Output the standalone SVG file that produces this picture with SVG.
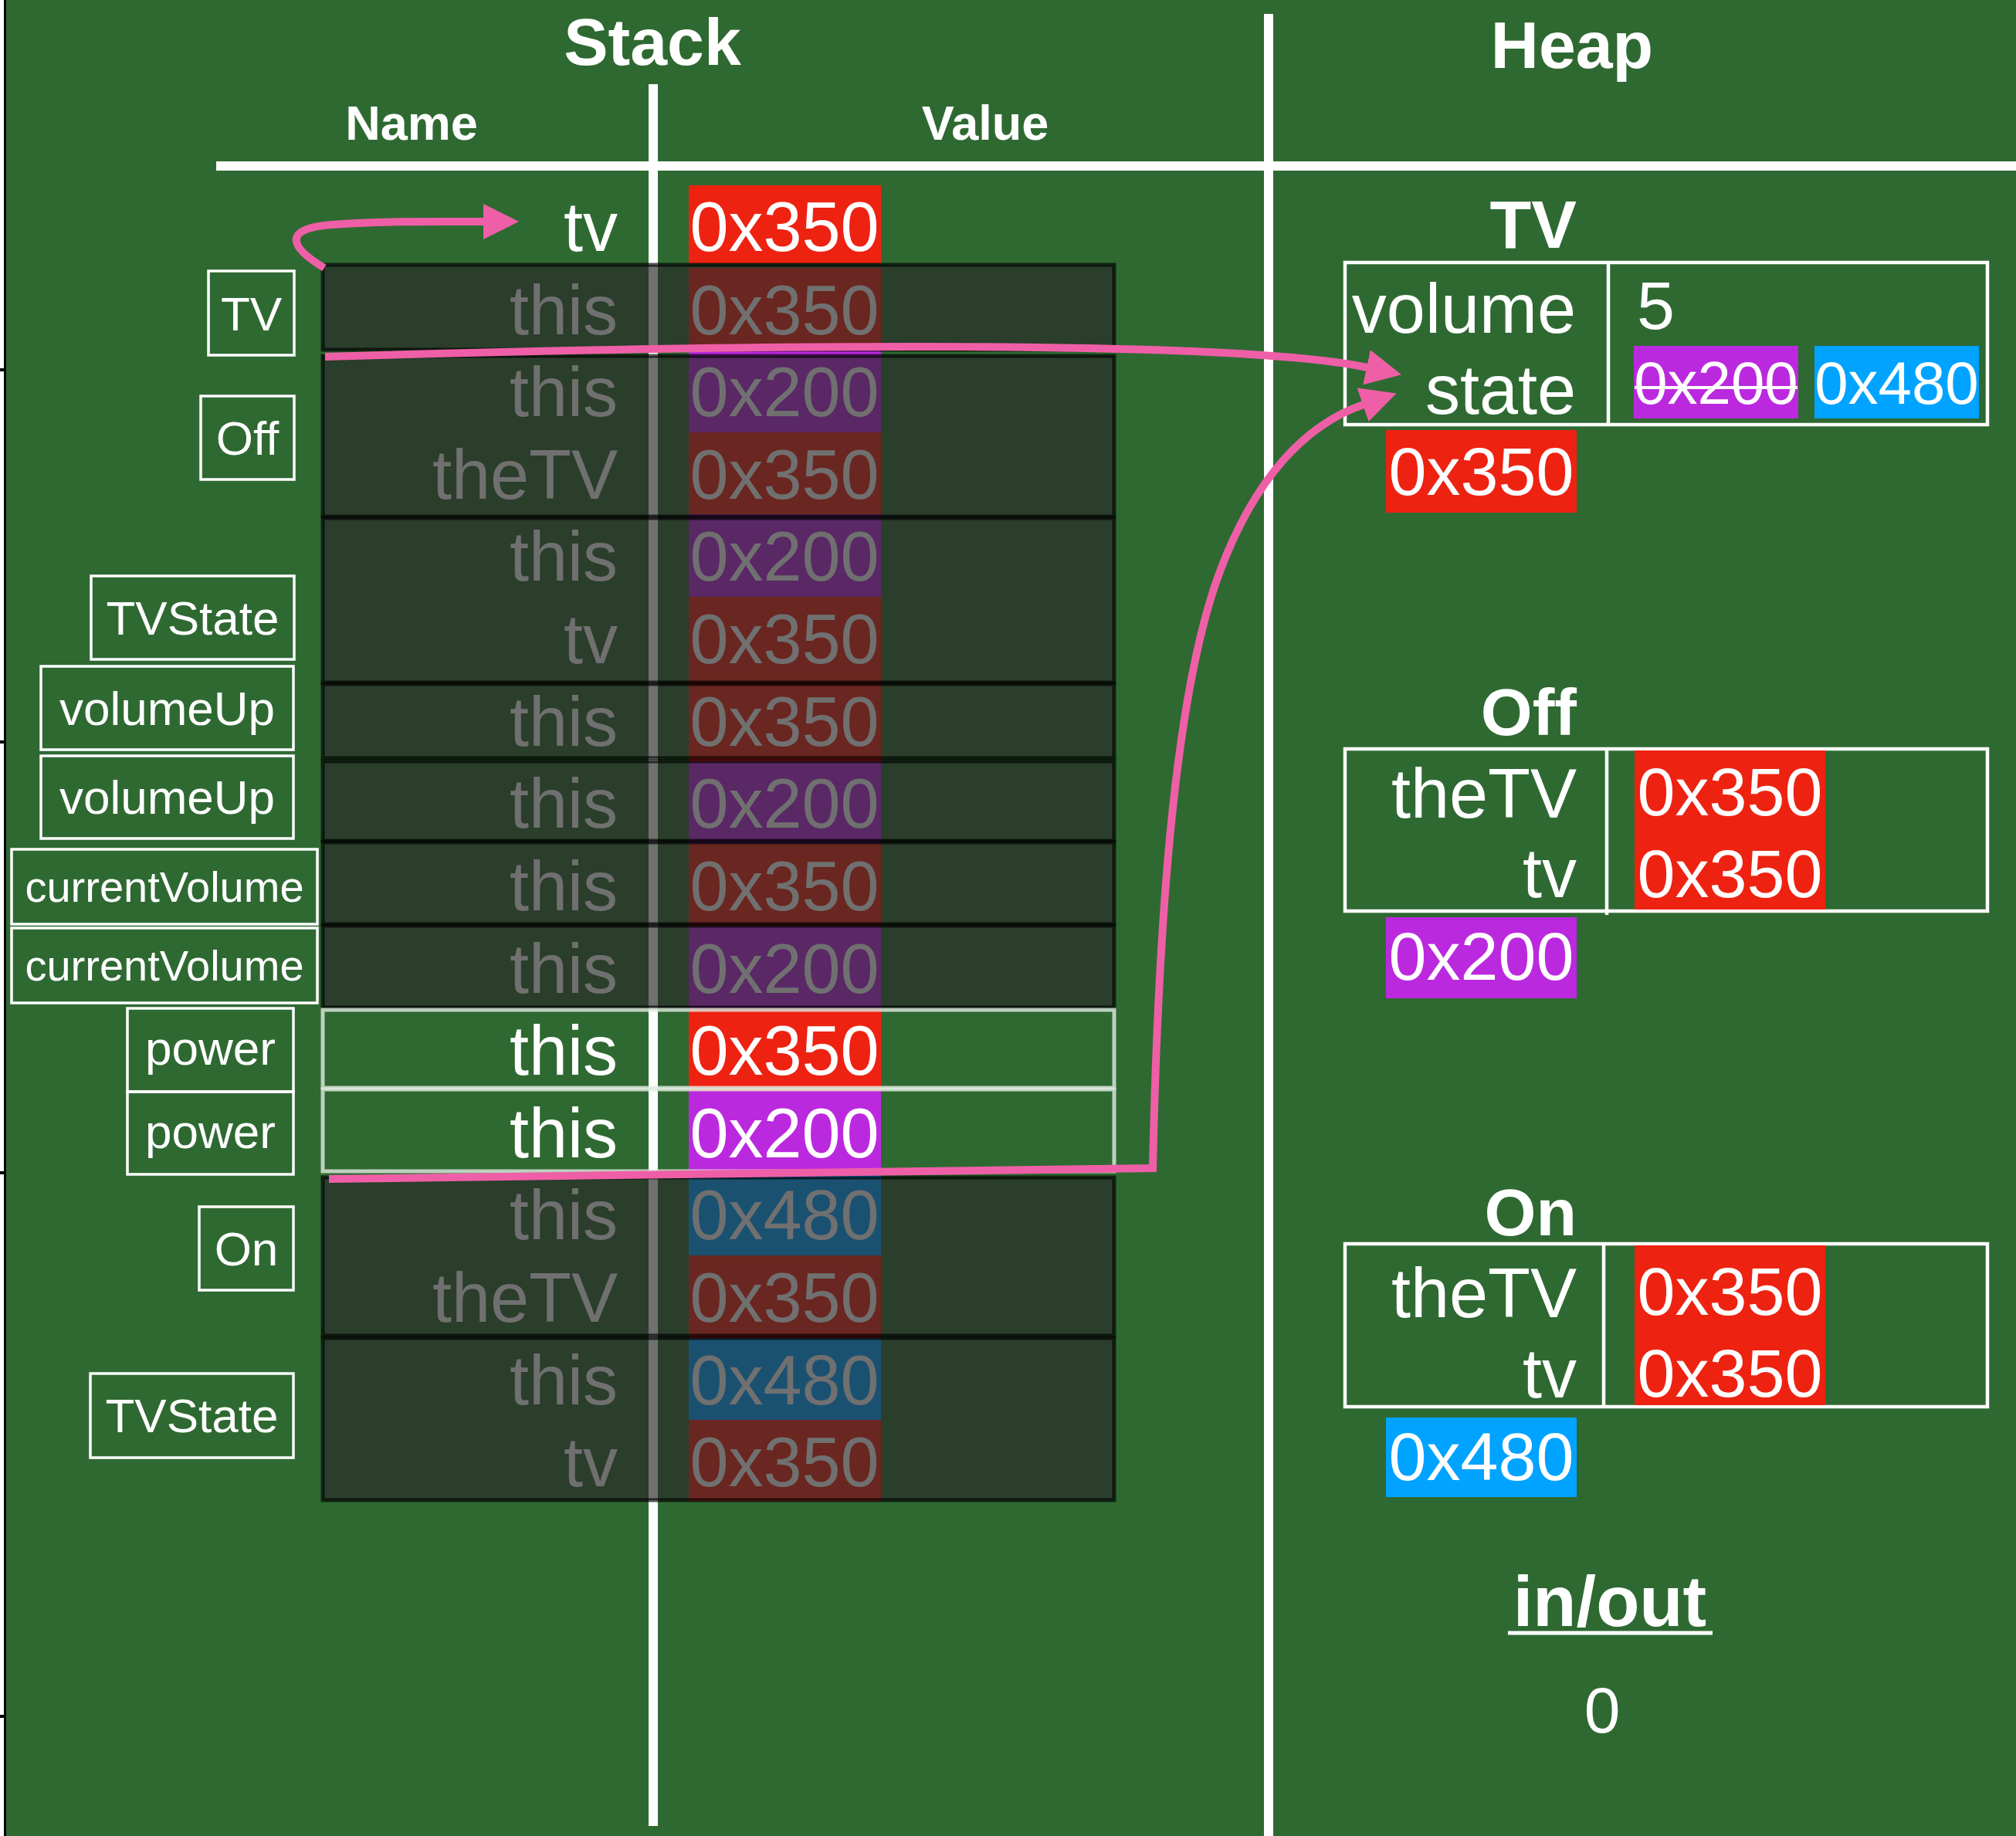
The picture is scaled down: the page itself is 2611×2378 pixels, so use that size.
<svg xmlns="http://www.w3.org/2000/svg" width="2611" height="2378" viewBox="0 0 2611 2378">
<style>
text{font-family:"Liberation Sans",Arial,Helvetica,sans-serif;fill:#fff}
.hdr{font-weight:bold;text-anchor:middle}
.nm{font-size:90px;text-anchor:end}
.val{font-size:90px;text-anchor:middle}
.lt{font-size:62px;text-anchor:middle}
.lt.sm{font-size:56px}
.lbox{fill:none;stroke:#fff;stroke-width:3.5}
.hbox{fill:none;stroke:#fff;stroke-width:4.5}
.wl{stroke:#fff;fill:none}
.red{fill:#ee2211}
.pur{fill:#bb29df}
.blu{fill:#00a3ff}
.frame{fill:rgba(40,40,40,0.667);stroke:rgba(0,0,0,0.65);stroke-width:5}
.pframe{fill:none;stroke:rgba(225,235,225,0.8);stroke-width:5}
.pink{fill:none;stroke:#ef5fa7;stroke-width:10}
</style>
<defs>
<marker id="ah" markerUnits="userSpaceOnUse" markerWidth="48" markerHeight="48" refX="1" refY="23" orient="auto" viewBox="0 0 48 48">
<path d="M0,0 L46,23 L0,46 z" fill="#ef5fa7"/>
</marker>
</defs>
<rect width="2611" height="2378" fill="#2f6932"/>
<rect x="0" y="0" width="5" height="2378" fill="#fff"/>
<g id="border" stroke="#000">
<line x1="6.5" y1="0" x2="6.5" y2="2378" stroke-width="3"/>
<line x1="0" y1="479" x2="8" y2="479" stroke-width="4"/>
<line x1="0" y1="961" x2="8" y2="961" stroke-width="4"/>
<line x1="0" y1="1519" x2="8" y2="1519" stroke-width="4"/>
<line x1="0" y1="2223" x2="8" y2="2223" stroke-width="4"/>
</g>
<g id="grid">
<line class="wl" x1="280" y1="215" x2="2611" y2="215" stroke-width="12"/>
<line class="wl" x1="846" y1="109" x2="846" y2="2365" stroke-width="12"/>
<line class="wl" x1="1643" y1="18" x2="1643" y2="2378" stroke-width="12"/>
<text class="hdr" x="845" y="84" font-size="86">Stack</text>
<text class="hdr" x="2036" y="88" font-size="86">Heap</text>
<text class="hdr" x="533" y="181" font-size="63">Name</text>
<text class="hdr" x="1276" y="181" font-size="63">Value</text>
</g>
<g id="stack-rows">
<rect class="red" x="892" y="240" width="249" height="101"/>
<text class="nm" x="800" y="325">tv</text><text class="val" x="1016" y="325">0x350</text>
<rect class="red" x="892" y="347" width="249" height="106"/>
<text class="nm" x="800" y="433">this</text><text class="val" x="1016" y="433">0x350</text>
<rect class="pur" x="892" y="453" width="249" height="107"/>
<text class="nm" x="800" y="539">this</text><text class="val" x="1016" y="539">0x200</text>
<rect class="red" x="892" y="560" width="249" height="106"/>
<text class="nm" x="800" y="646">theTV</text><text class="val" x="1016" y="646">0x350</text>
<rect class="pur" x="892" y="666" width="249" height="107"/>
<text class="nm" x="800" y="752">this</text><text class="val" x="1016" y="752">0x200</text>
<rect class="red" x="892" y="773" width="249" height="107"/>
<text class="nm" x="800" y="859">tv</text><text class="val" x="1016" y="859">0x350</text>
<rect class="red" x="892" y="880" width="249" height="106"/>
<text class="nm" x="800" y="966">this</text><text class="val" x="1016" y="966">0x350</text>
<rect class="pur" x="892" y="986" width="249" height="107"/>
<text class="nm" x="800" y="1072">this</text><text class="val" x="1016" y="1072">0x200</text>
<rect class="red" x="892" y="1093" width="249" height="107"/>
<text class="nm" x="800" y="1179">this</text><text class="val" x="1016" y="1179">0x350</text>
<rect class="pur" x="892" y="1200" width="249" height="106"/>
<text class="nm" x="800" y="1286">this</text><text class="val" x="1016" y="1286">0x200</text>
<rect class="red" x="892" y="1306" width="249" height="107"/>
<text class="nm" x="800" y="1392">this</text><text class="val" x="1016" y="1392">0x350</text>
<rect class="pur" x="892" y="1413" width="249" height="106"/>
<text class="nm" x="800" y="1499">this</text><text class="val" x="1016" y="1499">0x200</text>
<rect class="blu" x="892" y="1519" width="249" height="107"/>
<text class="nm" x="800" y="1605">this</text><text class="val" x="1016" y="1605">0x480</text>
<rect class="red" x="892" y="1626" width="249" height="107"/>
<text class="nm" x="800" y="1712">theTV</text><text class="val" x="1016" y="1712">0x350</text>
<rect class="blu" x="892" y="1733" width="249" height="106"/>
<text class="nm" x="800" y="1819">this</text><text class="val" x="1016" y="1819">0x480</text>
<rect class="red" x="892" y="1839" width="249" height="105"/>
<text class="nm" x="800" y="1925">tv</text><text class="val" x="1016" y="1925">0x350</text>
</g>
<g id="frame-TV"><rect class="frame" x="418" y="343" width="1025" height="110"/></g>
<g id="frame-Off"><rect class="frame" x="418" y="461" width="1025" height="208"/></g>
<g id="frame-TVState"><rect class="frame" x="418" y="671" width="1025" height="213"/></g>
<g id="frame-volumeUp-1"><rect class="frame" x="418" y="886" width="1025" height="96"/></g>
<g id="frame-volumeUp-2"><rect class="frame" x="418" y="986" width="1025" height="103"/></g>
<g id="frame-currentVolume-1"><rect class="frame" x="418" y="1091" width="1025" height="106"/></g>
<g id="frame-currentVolume-2"><rect class="frame" x="418" y="1199" width="1025" height="106"/></g>
<g id="frame-power-1"><rect class="pframe" x="418" y="1308" width="1025" height="101"/></g>
<g id="frame-power-2"><rect class="pframe" x="418" y="1411" width="1025" height="106"/></g>
<g id="frame-On"><rect class="frame" x="418" y="1525" width="1025" height="205"/></g>
<g id="frame-TVState-2"><rect class="frame" x="418" y="1733" width="1025" height="210"/></g>
<g id="label-TV"><rect class="lbox" x="270" y="351" width="111" height="109"/><text class="lt" x="325.5" y="428">TV</text></g>
<g id="label-Off"><rect class="lbox" x="260" y="513" width="121" height="108"/><text class="lt" x="320.5" y="589">Off</text></g>
<g id="label-TVState"><rect class="lbox" x="118" y="746" width="263" height="108"/><text class="lt" x="249.5" y="822">TVState</text></g>
<g id="label-volumeUp-1"><rect class="lbox" x="53" y="863" width="327" height="108"/><text class="lt" x="216.5" y="939">volumeUp</text></g>
<g id="label-volumeUp-2"><rect class="lbox" x="53" y="979" width="327" height="107"/><text class="lt" x="216.5" y="1054">volumeUp</text></g>
<g id="label-currentVolume-1"><rect class="lbox" x="15" y="1100" width="396" height="97"/><text class="lt sm" x="213" y="1168">currentVolume</text></g>
<g id="label-currentVolume-2"><rect class="lbox" x="15" y="1202" width="396" height="97"/><text class="lt sm" x="213" y="1270">currentVolume</text></g>
<g id="label-power-1"><rect class="lbox" x="165" y="1306" width="215" height="108"/><text class="lt" x="272.5" y="1379">power</text></g>
<g id="label-power-2"><rect class="lbox" x="165" y="1414" width="215" height="107"/><text class="lt" x="272.5" y="1487">power</text></g>
<g id="label-On"><rect class="lbox" x="258" y="1563" width="122" height="108"/><text class="lt" x="319" y="1639">On</text></g>
<g id="label-TVState-2"><rect class="lbox" x="117" y="1779" width="263" height="109"/><text class="lt" x="248.5" y="1855">TVState</text></g>
<g id="heap-TV">
<text class="hdr" x="2042" y="321" font-size="88" style="text-anchor:end">TV</text>
<rect class="hbox" x="1742" y="340" width="832" height="210"/>
<line class="wl" x1="2083" y1="340" x2="2083" y2="552" stroke-width="4.5"/>
<text x="2041" y="431" font-size="90" text-anchor="end">volume</text>
<text x="2041" y="536" font-size="90" text-anchor="end">state</text>
<text x="2120" y="426" font-size="88">5</text>
<rect class="pur" x="2116" y="448" width="213" height="94"/>
<text x="2222.5" y="523" font-size="78" text-anchor="middle">0x200</text>
<line class="wl" x1="2117" y1="502" x2="2328" y2="502" stroke-width="4"/>
<rect class="blu" x="2350" y="448" width="213" height="94"/>
<text x="2456.5" y="523" font-size="78" text-anchor="middle">0x480</text>
<rect class="red" x="1795" y="557" width="247" height="107"/>
<text x="1918.5" y="641" font-size="88" text-anchor="middle">0x350</text>
</g>
<g id="heap-Off">
<text class="hdr" x="2042" y="952" font-size="86" style="text-anchor:end">Off</text>
<rect class="hbox" x="1742" y="970" width="832" height="210"/>
<line class="wl" x1="2081" y1="970" x2="2081" y2="1185" stroke-width="4.5"/>
<rect class="red" x="2117" y="972" width="247" height="104"/>
<rect class="red" x="2117" y="1076" width="247" height="102"/>
<text x="2042" y="1059" font-size="90" text-anchor="end">theTV</text>
<text x="2042" y="1162" font-size="90" text-anchor="end">tv</text>
<text x="2240.5" y="1056" font-size="88" text-anchor="middle">0x350</text>
<text x="2240.5" y="1162" font-size="88" text-anchor="middle">0x350</text>
<rect class="pur" x="1795" y="1188" width="247" height="105"/>
<text x="1918.5" y="1269" font-size="88" text-anchor="middle">0x200</text>
</g>
<g id="heap-On">
<text class="hdr" x="2042" y="1600" font-size="86" style="text-anchor:end">On</text>
<rect class="hbox" x="1742" y="1611" width="832" height="211"/>
<line class="wl" x1="2077" y1="1611" x2="2077" y2="1822" stroke-width="4.5"/>
<rect class="red" x="2117" y="1613" width="247" height="104"/>
<rect class="red" x="2117" y="1717" width="247" height="103"/>
<text x="2042" y="1706" font-size="90" text-anchor="end">theTV</text>
<text x="2042" y="1810" font-size="90" text-anchor="end">tv</text>
<text x="2240.5" y="1703" font-size="88" text-anchor="middle">0x350</text>
<text x="2240.5" y="1809" font-size="88" text-anchor="middle">0x350</text>
<rect class="blu" x="1795" y="1836" width="247" height="103"/>
<text x="1918.5" y="1917" font-size="88" text-anchor="middle">0x480</text>
</g>
<g id="inout">
<text class="hdr" x="2085" y="2106" font-size="92">in/out</text>
<line class="wl" x1="1953" y1="2115" x2="2218" y2="2115" stroke-width="5"/>
<text x="2075" y="2244" font-size="84" text-anchor="middle">0</text>
</g>
<g id="connectors">
<path class="pink" d="M420,347 C378,322 362,296 430,291 C500,286 560,287 627,287" marker-end="url(#ah)"/>
<path class="pink" d="M421,462 C1000,445 1600,440 1771,476" marker-end="url(#ah)"/>
<path class="pink" stroke-linejoin="miter" d="M426,1527 L1493,1513 C1500,1200 1520,900 1580,740 C1625,620 1690,550 1766,524" marker-end="url(#ah)"/>
</g>
</svg>
